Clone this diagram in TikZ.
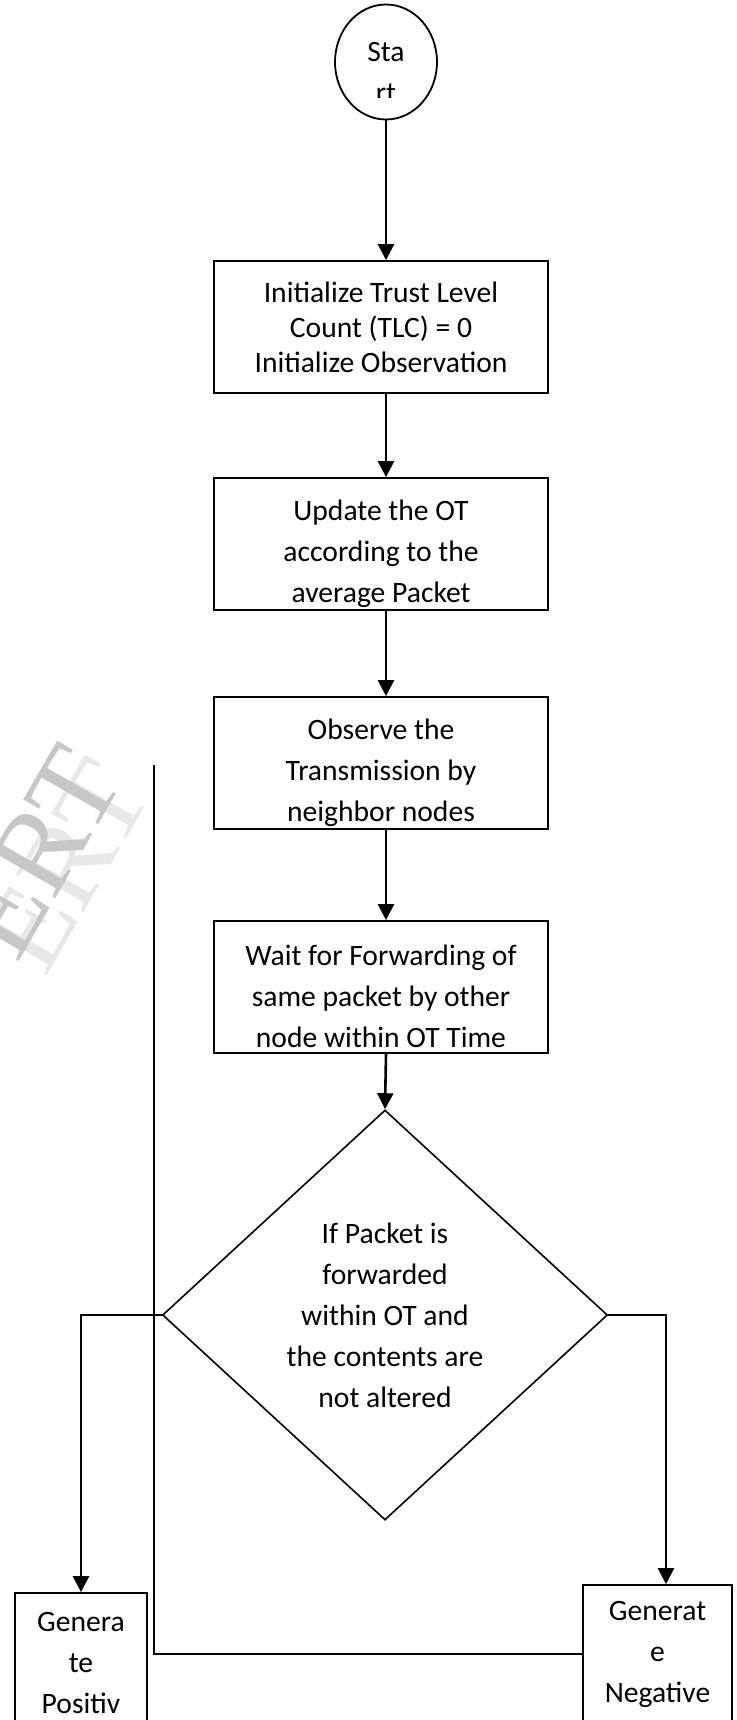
\documentclass[tikz,border=0pt]{standalone}
\usepackage{fontspec}
\setmainfont{Carlito}
\newfontfamily\wmfont{Liberation Serif}
\usetikzlibrary{arrows.meta,shapes.geometric,calc}

\begin{document}
\begin{tikzpicture}[x=1pt,y=-1pt]
\tikzstyle{every node}=[font=\fontsize{29.6}{41}\selectfont]
\tikzstyle{block}=[draw,line width=1.8pt,minimum width=334,minimum height=132,align=center,inner sep=0]
\tikzstyle{flow}=[line width=2.6pt,-{Triangle[length=16pt,width=16pt]}]
\tikzstyle{loopline}=[line width=1.6pt]
\tikzstyle{mark wm}=[rotate=60,font=\wmfont\fontsize{118}{118}\selectfont]

\useasboundingbox (0,0) rectangle (736,1720);

% watermark of the page
\node[mark wm,text=black!9] (wmlight) at (66,866) {ERT};
\node[mark wm,text=black!22] (wm) at (38,852) {ERT};

\node[draw,ellipse,line width=1.8pt,minimum width=102,minimum height=115,
  path picture={
    \clip (path picture bounding box.north west) rectangle ([yshift=-36pt]path picture bounding box.east);
    \node[align=center] at ([yshift=-11pt]path picture bounding box.center) {Sta\\rt};
  }] (start) at (386,62) {};

\node[block,font=\fontsize{29.6}{35}\selectfont] (init) at (381,327) {Initialize Trust Level\\Count (TLC) = 0\\Initialize Observation};
\node[block,text height=122pt] (update) at (381,544) {Update the OT\\according to the\\average Packet};
\node[block,text height=122pt] (observe) at (381,763) {Observe the\\Transmission by\\neighbor nodes};
\node[block,text height=122pt] (wait) at (381,987) {Wait for Forwarding of\\same packet by other\\node within OT Time};

\node[draw,diamond,line width=1.6pt,minimum width=445,minimum height=410,inner sep=0,align=center] (check) at (385,1315)
  {If Packet is\\forwarded\\within OT and\\the contents are\\not altered};

\node[block,minimum width=132,minimum height=140] (pos) at (81,1663) {Genera\\te\\Positiv};
\node[block,minimum width=149,minimum height=138] (neg) at (657.5,1654) {Generat\\e\\Negative};

\draw[flow] (start) -- (start |- init.north);
\draw[flow] (init.south -| start) -- (update.north -| start);
\draw[flow] (update.south -| start) -- (observe.north -| start);
\draw[flow] (observe.south -| start) -- (wait.north -| start);
\draw[flow] (wait.south -| start) -- (check.north);

\draw[flow] (check.west) -| (pos.north);
\draw[flow] (check.east) -| ([xshift=8.5pt]neg.north);

\coordinate (looptop) at (154,765);
\draw[loopline] (neg.west) -| (looptop);
\end{tikzpicture}
\end{document}
